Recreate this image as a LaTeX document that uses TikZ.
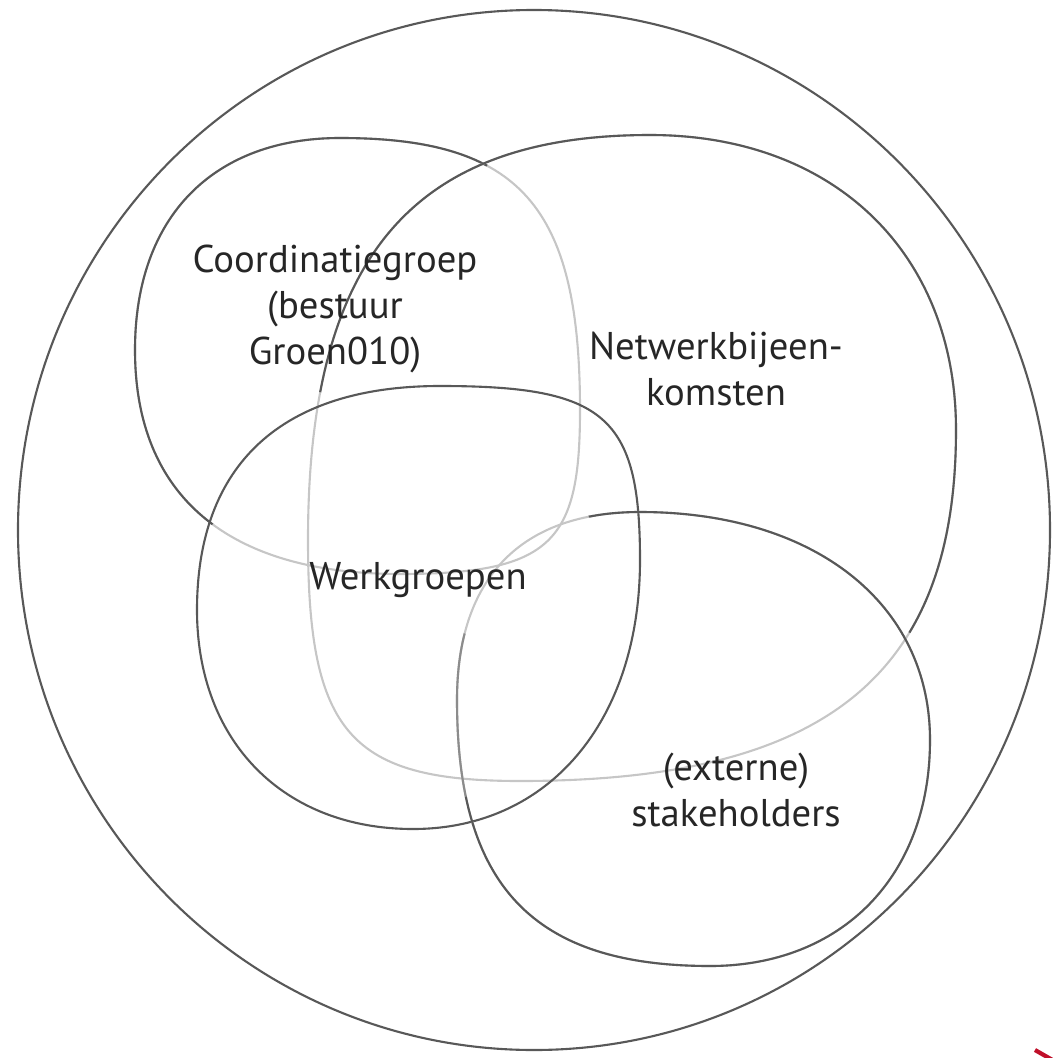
\documentclass[tikz,border=0pt]{standalone}
\usepackage{fontspec}
\setmainfont{PT Sans}
\usetikzlibrary{positioning}

\definecolor{ringdark}{HTML}{585858}
\definecolor{ringmid}{HTML}{8C8C8C}
\definecolor{ringlight}{HTML}{C6C6C6}
\definecolor{markred}{HTML}{C0102A}

% the four group outlines, in pixel units (left, top, right, bottom)
\newcommand{\coordshape}{(135,350) .. controls +(0,-135) and +(-125,0) .. (340,138)
    .. controls +(180,0) and +(0,-204) .. (580,410)
    .. controls +(0,131) and +(153,0) .. (400,574)
    .. controls +(-172,0) and +(0,146) .. cycle}
\newcommand{\netshape}{(308,540) .. controls +(0,-280) and +(-240,0) .. (650,135)
    .. controls +(184,0) and +(0,-177) .. (956,430)
    .. controls +(0,246) and +(305,0) .. (520,781)
    .. controls +(-170,0) and +(0,193) .. cycle}
\newcommand{\werkshape}{(197,610) .. controls +(0,-146) and +(-158,0) .. (440,386)
    .. controls +(165,0) and +(0,-144) .. (640,560)
    .. controls +(0,161) and +(136,0) .. (413,829)
    .. controls +(-130,0) and +(0,131) .. cycle}
\newcommand{\stakeshape}{(457,700) .. controls +(0,-122) and +(-119,0) .. (640,512)
    .. controls +(174,0) and +(0,-137) .. (930,740)
    .. controls +(0,136) and +(132,0) .. (710,966)
    .. controls +(-177,0) and +(0,186) .. cycle}

\begin{document}
\begin{tikzpicture}[x=0.025cm, y=-0.025cm,
        ring/.style={draw=ringdark, line width=1.5pt},
        halfring/.style={draw=ringmid, line width=1.5pt},
        faded/.style={draw=ringlight, line width=1.5pt},
        grouptext/.style={align=center, text=black!85, font=\fontsize{27.5}{32.5}\selectfont}
    ]
    \useasboundingbox (0,0) rectangle (1052,1058);

    % outer ring
    \draw[ring] (534,530) ellipse [x radius=516, y radius=520];

    % coordinatiegroep: light on the right and below
    \draw[faded] \coordshape;
    \begin{scope}
        \clip (358,357) -- +(131:900) arc[start angle=131, end angle=304, radius=900] -- cycle;
        \draw[ring] \coordshape;
    \end{scope}

    % netwerkbijeenkomsten: light below and on the left
    \draw[faded] \netshape;
    \begin{scope}
        \clip (630,458) -- +(192:900) arc[start angle=192, end angle=392, radius=900] -- cycle;
        \draw[ring] \netshape;
    \end{scope}

    % werkgroepen
    \draw[ring] \werkshape;

    % stakeholders: light at the top left, grey on the left
    \draw[faded] \stakeshape;
    \begin{scope}
        \clip (693,740) -- +(166:900) arc[start angle=166, end angle=205, radius=900] -- cycle;
        \draw[halfring] \stakeshape;
    \end{scope}
    \begin{scope}
        \clip (693,740) -- +(245:900) arc[start angle=245, end angle=526, radius=900] -- cycle;
        \draw[ring] \stakeshape;
    \end{scope}

    \node[grouptext] (coord) at (335,309) {Coordinatiegroep\\(bestuur\\Groen010)};
    \node[grouptext] (netw) at (716,369) {Netwerkbijeen-\\komsten};
    \node[grouptext] (werk) at (418,580) {Werkgroepen};
    \node[grouptext] (stake) at (736,790) {(externe)\\stakeholders};

    % red tick in the corner
    \draw[markred, line width=3pt] (1035,1050) -- (1056,1062);
\end{tikzpicture}
\end{document}
